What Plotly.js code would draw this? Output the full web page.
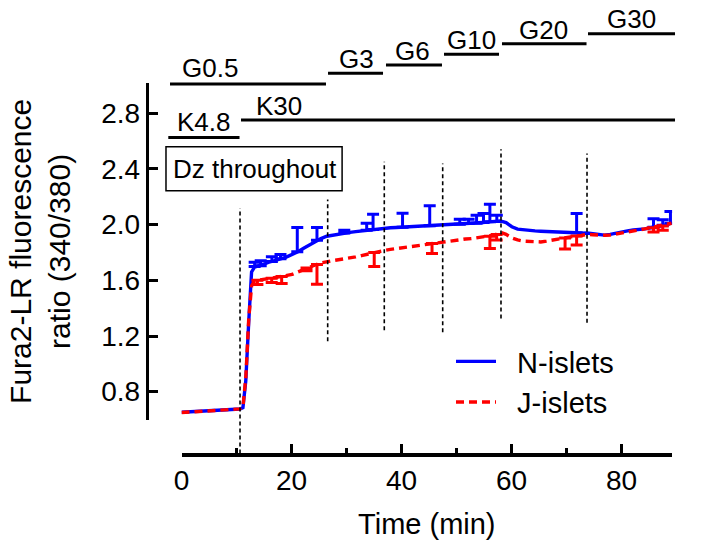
<!DOCTYPE html>
<html>
<head>
<meta charset="utf-8">
<script src="https://cdn.plot.ly/plotly-3.0.1.min.js"></script>
<style>html,body{margin:0;padding:0;background:#fff;}#chart{width:702px;height:548px;}</style>
</head>
<body>
<div id="chart"></div>
<script>
// ---- data ----
const timeMin = [0,1.18,2.23,3.28,4.33,5.38,6.44,7.49,8.54,9.59,10.64,11.17,11.69,12.22,12.74,13.27,13.8,14.85,15.9,16.95,18.0,19.05,20.1,21.16,22.21,23.26,24.31,25.36,26.41,27.47,28.52,29.57,30.62,31.67,32.72,33.77,34.83,35.88,36.93,37.98,39.03,40.08,41.13,42.19,43.24,44.29,45.34,46.39,47.44,48.5,49.55,50.6,51.65,52.7,53.75,54.8,55.86,56.91,57.96,59.01,60.06,61.11,62.17,63.22,64.27,65.32,66.37,67.42,68.47,69.53,70.58,71.63,72.68,73.73,74.78,75.84,76.89,77.94,78.99,80.04,81.09,82.14,83.2,84.25,85.3,86.35,87.4,88.45,89.1];
const nIslets = [0.652,0.655,0.657,0.659,0.661,0.664,0.666,0.668,0.670,0.672,0.675,0.685,0.88,1.30,1.66,1.695,1.70,1.715,1.73,1.74,1.755,1.767,1.785,1.805,1.83,1.855,1.88,1.90,1.917,1.925,1.932,1.938,1.945,1.95,1.955,1.96,1.965,1.972,1.975,1.978,1.98,1.982,1.985,1.987,1.99,1.992,1.995,1.993,1.995,2.0,2.005,2.003,2.008,2.01,2.012,2.015,2.02,2.022,2.027,2.015,1.985,1.968,1.962,1.958,1.955,1.953,1.952,1.95,1.948,1.946,1.944,1.942,1.938,1.94,1.935,1.928,1.925,1.93,1.94,1.95,1.955,1.962,1.965,1.97,1.978,1.985,1.993,2.0,2.015];
const jIslets = [0.650,0.653,0.656,0.658,0.660,0.663,0.665,0.667,0.670,0.672,0.676,0.69,0.90,1.32,1.56,1.595,1.60,1.607,1.612,1.618,1.625,1.632,1.642,1.66,1.678,1.695,1.71,1.725,1.735,1.742,1.748,1.753,1.76,1.768,1.778,1.788,1.798,1.808,1.815,1.822,1.828,1.835,1.842,1.848,1.853,1.858,1.863,1.87,1.876,1.882,1.888,1.893,1.897,1.9,1.905,1.91,1.915,1.925,1.945,1.93,1.905,1.89,1.882,1.878,1.876,1.876,1.882,1.89,1.898,1.905,1.912,1.918,1.922,1.93,1.928,1.925,1.924,1.926,1.932,1.94,1.948,1.955,1.962,1.97,1.978,1.985,1.993,2.0,2.01];

// SEM bars (N-islets upward, J-islets downward)
const nErrTime = [13.3,14.4,16.43,18.0,21.05,24.63,29.6,33.67,34.83,40.19,45.13,50.6,52.2,53.65,54.91,56.07,57.33,71.84,85.82,87.5,88.9];
const nErrMean = [1.70,1.705,1.735,1.755,1.805,1.888,1.94,1.96,1.965,1.982,1.993,2.003,2.008,2.011,2.016,2.02,2.023,1.942,1.982,1.995,2.01];
const nErrSem  = [0.03,0.035,0.035,0.03,0.175,0.092,0.02,0.05,0.11,0.10,0.142,0.035,0.03,0.057,0.065,0.127,0.045,0.138,0.06,0.04,0.085];
const jErrTime = [13.8,16.4,18.21,22.73,24.63,35.04,45.55,56.07,57.3,69.74,71.84,85.82,87.5];
const jErrMean = [1.60,1.615,1.627,1.688,1.714,1.80,1.865,1.917,1.93,1.905,1.918,1.978,1.99];
const jErrSem  = [0.03,0.03,0.05,0.02,0.142,0.10,0.072,0.088,0.04,0.08,0.065,0.03,0.03];

// protocol
const switchTimes = [10.64,26.58,36.87,47.49,58.09,73.73];
const switchTop   = [2.117,2.181,2.452,2.439,2.541,2.512];
const switchBottom= [0.355,1.162,1.241,1.227,1.325,1.296];
const glucoseLabels = ['G0.5','G3','G6','G10','G20','G30'];
const glucoseStart = [-2.09,26.64,37.18,47.73,58.27,73.91];
const glucoseEnd   = [26.27,36.64,47.36,57.73,73.64,89.73];
const glucoseLevel = [3.011,3.088,3.147,3.224,3.299,3.371];
const glucoseTextT = [5.2,31.9,41.98,52.8,65.78,81.85];
const glucoseTextV = [3.128,3.19,3.248,3.324,3.40,3.478];
const kLabels = ['K4.8','K30'];
const kStart = [-2.4,10.82];
const kEnd   = [10.55,89.73];
const kLevel = [2.627,2.752];
const kTextT = [4.13,17.67];
const kTextV = [2.74,2.854];

// ---- geometry ----
const W = 702, H = 548;
const xRange = [0, 89.2];
const yRange = [0.596, 3.02];
const xDom = [181.5 / W, (181.5 + 89.2 * 5.5) / W];
const yDom = [1 - 420.06 / H, 1 - 82.7 / H];
const xAxisPos = 1 - 454 / H;
const yAxisPos = 146.7 / W;
const xp = t => xDom[0] + (t - xRange[0]) / (xRange[1] - xRange[0]) * (xDom[1] - xDom[0]);
const yp = v => yDom[0] + (v - yRange[0]) / (yRange[1] - yRange[0]) * (yDom[1] - yDom[0]);

const FONT = 'Liberation Sans, Arial, sans-serif';
const BLUE = '#0000ff', RED = '#ff0000';

const traces = [
  {x: timeMin, y: nIslets, type: 'scatter', mode: 'lines', name: '\u00a0\u00a0N-islets',
   line: {color: BLUE, width: 3.4}},
  {x: nErrTime, y: nErrMean, type: 'scatter', mode: 'markers', showlegend: false, hoverinfo: 'skip',
   marker: {size: 0.1, color: BLUE, opacity: 0},
   error_y: {type: 'data', symmetric: false, array: nErrSem, arrayminus: nErrSem.map(() => 0),
             color: BLUE, thickness: 3, width: 6}},
  {x: timeMin, y: jIslets, type: 'scatter', mode: 'lines', name: '\u00a0\u00a0J-islets',
   line: {color: RED, width: 3.4, dash: '8px,5px'}},
  {x: jErrTime, y: jErrMean, type: 'scatter', mode: 'markers', showlegend: false, hoverinfo: 'skip',
   marker: {size: 0.1, color: RED, opacity: 0},
   error_y: {type: 'data', symmetric: false, array: jErrSem.map(() => 0), arrayminus: jErrSem,
             color: RED, thickness: 3, width: 6}}
];

const shapes = [];
const annotations = [];
switchTimes.forEach((t, i) => {
  shapes.push({type: 'line', xref: 'paper', yref: 'paper', x0: xp(t), x1: xp(t),
    y0: yp(switchBottom[i]), y1: yp(switchTop[i]), line: {color: '#000', width: 1.6, dash: '4px,3px'}});
});
glucoseLabels.forEach((lab, i) => {
  shapes.push({type: 'line', xref: 'paper', yref: 'paper', x0: xp(glucoseStart[i]), x1: xp(glucoseEnd[i]),
    y0: yp(glucoseLevel[i]), y1: yp(glucoseLevel[i]), line: {color: '#000', width: 3}});
  annotations.push({text: lab, xref: 'paper', yref: 'paper', x: xp(glucoseTextT[i]), y: yp(glucoseTextV[i]),
    xanchor: 'center', yanchor: 'middle', showarrow: false, font: {family: FONT, size: 26, color: '#000'}});
});
kLabels.forEach((lab, i) => {
  shapes.push({type: 'line', xref: 'paper', yref: 'paper', x0: xp(kStart[i]), x1: xp(kEnd[i]),
    y0: yp(kLevel[i]), y1: yp(kLevel[i]), line: {color: '#000', width: 3}});
  annotations.push({text: lab, xref: 'paper', yref: 'paper', x: xp(kTextT[i]), y: yp(kTextV[i]),
    xanchor: 'center', yanchor: 'middle', showarrow: false, font: {family: FONT, size: 26, color: '#000'}});
});
shapes.push({type: 'rect', xref: 'paper', yref: 'paper', x0: xp(-2.82), x1: xp(29.2), y0: yp(2.243), y1: yp(2.56),
  line: {color: '#000', width: 1.5}, fillcolor: 'rgba(0,0,0,0)'});
annotations.push({text: 'Dz throughout', xref: 'paper', yref: 'paper', x: xp(13.3), y: yp(2.40),
  xanchor: 'center', yanchor: 'middle', showarrow: false, font: {family: FONT, size: 26, color: '#000'}});

const layout = {
  width: W, height: H,
  margin: {l: 0, r: 0, t: 0, b: 0, pad: 0},
  paper_bgcolor: '#fff', plot_bgcolor: '#fff',
  font: {family: FONT, color: '#000'},
  showlegend: true,
  legend: {x: 451 / W, y: 1 - 336 / H, xanchor: 'left', yanchor: 'top', bgcolor: 'rgba(0,0,0,0)',
           font: {family: FONT, size: 29, color: '#000'}, itemwidth: 40, tracegroupgap: 0},
  xaxis: {
    domain: xDom, range: xRange, anchor: 'free', position: xAxisPos,
    showgrid: false, zeroline: false, showline: true, linecolor: '#000', linewidth: 3.5,
    ticks: 'inside', ticklen: 9, tickwidth: 3, tickcolor: '#000',
    tick0: 0, dtick: 20, tickfont: {family: FONT, size: 28, color: '#000'},
    minor: {dtick: 10, tick0: 0, ticks: 'inside', ticklen: 5, tickwidth: 3, tickcolor: '#000', showgrid: false},
    title: {text: 'Time (min)', font: {family: FONT, size: 29, color: '#000'}, standoff: 18}
  },
  yaxis: {
    domain: yDom, range: yRange, anchor: 'free', position: yAxisPos,
    showgrid: false, zeroline: false, showline: true, linecolor: '#000', linewidth: 3.5,
    ticks: 'inside', ticklen: 9, tickwidth: 3, tickcolor: '#000',
    tick0: 0.8, dtick: 0.4, tickformat: '.1f', tickfont: {family: FONT, size: 28, color: '#000'},
    title: {text: 'Fura2-LR fluorescence<br>ratio (340/380)', font: {family: FONT, size: 30, color: '#000'}, standoff: 20}
  },
  shapes: shapes,
  annotations: annotations
};

Plotly.newPlot('chart', traces, layout, {displayModeBar: false, staticPlot: true});
</script>
</body>
</html>
